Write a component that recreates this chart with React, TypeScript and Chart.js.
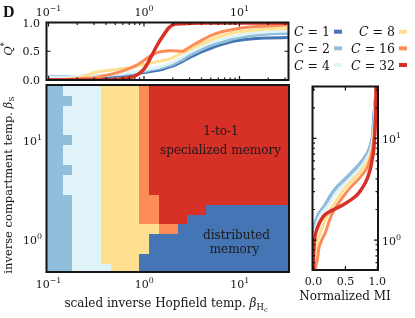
import React, { useEffect, useRef } from "react";
import { Chart, registerables } from "chart.js";

Chart.register(...registerables);

const W = 415;
const H = 318;
const SERIF = '"DejaVu Serif", "Liberation Serif", serif';
const INK = "#151515";

// ---- series / categories ----
const C_VALUES = [1, 2, 4, 8, 16, 32];
const C_COLORS = ["#4575b4", "#91bfdb", "#e0f3f8", "#fee090", "#fc8d59", "#d73027"];

// top panel: Q* vs scaled inverse Hopfield temperature
const BETA_H = [0.1, 0.15, 0.2, 0.25, 0.3, 0.4, 0.5, 0.6, 0.7, 0.8, 0.9, 1.0, 1.1, 1.2, 1.3, 1.4, 1.6, 1.8, 2.0, 2.5, 3.0, 4.0, 5.0, 6.3, 8.0, 10, 15, 20, 32];
const Q_C1 = [0.05, 0.05, 0.05, 0.05, 0.06, 0.06, 0.07, 0.08, 0.09, 0.1, 0.12, 0.13, 0.14, 0.15, 0.16, 0.17, 0.19, 0.22, 0.24, 0.32, 0.39, 0.49, 0.55, 0.61, 0.66, 0.69, 0.72, 0.73, 0.74];
const Q_C2 = [0.06, 0.06, 0.06, 0.07, 0.07, 0.08, 0.09, 0.1, 0.11, 0.12, 0.14, 0.15, 0.16, 0.18, 0.19, 0.2, 0.22, 0.25, 0.27, 0.35, 0.43, 0.53, 0.6, 0.65, 0.7, 0.74, 0.78, 0.8, 0.81];
const Q_C4 = [0.05, 0.05, 0.06, 0.06, 0.07, 0.08, 0.1, 0.11, 0.13, 0.14, 0.16, 0.17, 0.19, 0.2, 0.21, 0.22, 0.25, 0.28, 0.31, 0.4, 0.48, 0.58, 0.65, 0.7, 0.75, 0.78, 0.82, 0.84, 0.85];
const Q_C8 = [0.0, 0.01, 0.03, 0.08, 0.13, 0.16, 0.18, 0.2, 0.21, 0.23, 0.25, 0.27, 0.28, 0.3, 0.31, 0.32, 0.34, 0.36, 0.39, 0.47, 0.53, 0.63, 0.7, 0.76, 0.81, 0.84, 0.87, 0.89, 0.9];
const Q_C16 = [0.01, 0.01, 0.02, 0.03, 0.04, 0.08, 0.12, 0.16, 0.2, 0.24, 0.29, 0.34, 0.39, 0.43, 0.46, 0.48, 0.5, 0.51, 0.51, 0.5, 0.57, 0.69, 0.77, 0.83, 0.87, 0.9, 0.93, 0.94, 0.96];
const Q_C32 = [0, 0, 0, 0, 0, 0.005, 0.01, 0.02, 0.04, 0.07, 0.12, 0.19, 0.3, 0.42, 0.53, 0.63, 0.78, 0.9, 0.96, 0.98, 0.985, 0.99, 0.99, 0.99, 0.99, 0.99, 0.99, 0.99, 0.99];
const Q_SERIES = [Q_C1, Q_C2, Q_C4, Q_C8, Q_C16, Q_C32];

// right panel: normalized MI vs inverse compartment temperature
const BETA_S = [0.5, 0.6, 0.7, 0.8, 0.9, 1.0, 1.2, 1.5, 1.8, 2.2, 2.7, 3.3, 4, 5, 6, 7.5, 10, 13, 18, 25, 33];
const MI_C1 = [0, 0, 0, 0, 0, 0, 0, 0.03, 0.08, 0.18, 0.26, 0.36, 0.5, 0.65, 0.76, 0.86, 0.92, 0.935, 0.95, 0.97, 0.98];
const MI_C2 = [0, 0, 0, 0, 0, 0, 0, 0.03, 0.08, 0.18, 0.26, 0.36, 0.5, 0.65, 0.76, 0.86, 0.92, 0.935, 0.95, 0.97, 0.98];
const MI_C4 = [0, 0, 0.005, 0.005, 0.01, 0.01, 0.025, 0.06, 0.12, 0.23, 0.32, 0.43, 0.57, 0.72, 0.81, 0.89, 0.93, 0.95, 0.96, 0.975, 0.98];
const MI_C8 = [0.01, 0.02, 0.03, 0.04, 0.055, 0.07, 0.11, 0.17, 0.22, 0.31, 0.4, 0.5, 0.63, 0.77, 0.85, 0.91, 0.94, 0.955, 0.97, 0.975, 0.98];
const MI_C16 = [0.02, 0.05, 0.07, 0.08, 0.1, 0.13, 0.19, 0.24, 0.29, 0.37, 0.47, 0.58, 0.71, 0.83, 0.88, 0.92, 0.95, 0.96, 0.97, 0.975, 0.98];
const MI_C32 = [0, 0, 0, 0.005, 0.01, 0.015, 0.04, 0.1, 0.19, 0.45, 0.66, 0.77, 0.84, 0.89, 0.915, 0.94, 0.955, 0.965, 0.975, 0.98, 0.98];
const MI_SERIES = [MI_C1, MI_C2, MI_C4, MI_C8, MI_C16, MI_C32];

// main panel: grid of (beta_H, beta_S) and index (into C_VALUES) of best C at each cell
const BETA_H_GRID = [0.1, 0.126, 0.158, 0.2, 0.251, 0.316, 0.398, 0.501, 0.631, 0.794, 1, 1.26, 1.58, 2, 2.51, 3.16, 3.98, 5.01, 6.31, 7.94, 10, 12.6, 15.8, 20, 25.1, 31.6];
const BETA_S_GRID = [31.6, 25.1, 20, 15.8, 12.6, 10, 7.94, 6.31, 5.01, 3.98, 3.16, 2.51, 2, 1.58, 1.26, 1, 0.794, 0.631, 0.501];
const BEST_C = [
  "11222233334555555555555555",
  "11122233334555555555555555",
  "11222233334555555555555555",
  "11222233334555555555555555",
  "11222233334555555555555555",
  "11122233334555555555555555",
  "11222233334555555555555555",
  "11222233334555555555555555",
  "11122233334555555555555555",
  "11222233334555555555555555",
  "11222233334555555555555555",
  "11122233334455555555555555",
  "11122233334455555000000000",
  "11122233334455500000000000",
  "11122233333344000000000000",
  "11122233333000000000000000",
  "11122233333000000000000000",
  "11122233330000000000000000",
  "11122223330000000000000000",
];

// axes
const X_MIN = 0.0953;
const X_MAX = 32.6;
const HEAT_Y_MIN = 0.467;
const HEAT_Y_MAX = 36.1;
const MI_Y_MIN = 0.508;
const MI_Y_MAX = 32.4;
const X_TICKS = [0.1, 1, 10];
const X_TICK_EXP = ["\u22121", "0", "1"];
const Q_TICKS = [0, 0.5, 1];
const Q_TICK_LABELS = ["0.0", "0.5", "1.0"];
const S_TICKS = [1, 10];
const S_TICK_EXP = ["0", "1"];
const MI_TICKS = [0, 0.5, 1];
const MI_TICK_LABELS = ["0.0", "0.5", "1.0"];

// ---- drawing helpers ----
type Part = { t: string; font: string; dy?: number };
const font = (size: number, style = "") => `${style} ${size}px ${SERIF}`.trim();

function drawRich(ctx: CanvasRenderingContext2D, parts: Part[], x: number, y: number, align: "left" | "center" | "right", rot = 0) {
  ctx.save();
  ctx.translate(x, y);
  if (rot) ctx.rotate(rot);
  ctx.textAlign = "left";
  ctx.textBaseline = "alphabetic";
  let total = 0;
  const widths = parts.map((p) => {
    ctx.font = p.font;
    const w = ctx.measureText(p.t).width;
    total += w;
    return w;
  });
  let cx = align === "left" ? 0 : align === "center" ? -total / 2 : -total;
  parts.forEach((p, i) => {
    ctx.font = p.font;
    ctx.fillText(p.t, cx, p.dy || 0);
    cx += widths[i];
  });
  ctx.restore();
}

const pow10 = (exp: string, size = 11): Part[] => [
  { t: "10", font: font(size) },
  { t: exp, font: font(size * 0.72), dy: -size * 0.45 },
];

function logMinors(min: number, max: number) {
  const out: number[] = [];
  for (let e = Math.floor(Math.log10(min)); e <= Math.ceil(Math.log10(max)); e++) {
    for (let m = 2; m <= 9; m++) {
      const v = m * Math.pow(10, e);
      if (v > min && v < max) out.push(v);
    }
  }
  return out;
}

function frame(ctx: CanvasRenderingContext2D, a: any) {
  ctx.save();
  ctx.strokeStyle = INK;
  ctx.lineWidth = 2;
  ctx.strokeRect(a.left, a.top, a.right - a.left, a.bottom - a.top);
  ctx.restore();
}

function ticksX(ctx: CanvasRenderingContext2D, scale: any, a: any, vals: number[], len: number, top: boolean, bottom: boolean) {
  ctx.beginPath();
  vals.forEach((v) => {
    const p = scale.getPixelForValue(v);
    if (top) { ctx.moveTo(p, a.top); ctx.lineTo(p, a.top + len); }
    if (bottom) { ctx.moveTo(p, a.bottom); ctx.lineTo(p, a.bottom - len); }
  });
  ctx.stroke();
}

function ticksY(ctx: CanvasRenderingContext2D, scale: any, a: any, vals: number[], len: number, left: boolean, right: boolean) {
  ctx.beginPath();
  vals.forEach((v) => {
    const p = scale.getPixelForValue(v);
    if (left) { ctx.moveTo(a.left, p); ctx.lineTo(a.left + len, p); }
    if (right) { ctx.moveTo(a.right, p); ctx.lineTo(a.right - len, p); }
  });
  ctx.stroke();
}

function cellEdges(g: number[]) {
  const n = g.length;
  const e: number[] = [g[0] / Math.sqrt(g[1] / g[0])];
  for (let i = 1; i < n; i++) e.push(Math.sqrt(g[i - 1] * g[i]));
  e.push(g[n - 1] * Math.sqrt(g[n - 1] / g[n - 2]));
  return e;
}

// ---- plugins ----
const topDecor = {
  id: "topDecor",
  afterDatasetsDraw(chart: any) {
    const { ctx, chartArea: a } = chart;
    const xs = chart.scales.x;
    const ys = chart.scales.y;
    ctx.save();
    ctx.strokeStyle = INK;
    ctx.lineWidth = 1.2;
    ticksX(ctx, xs, a, X_TICKS, 4, true, true);
    ticksX(ctx, xs, a, logMinors(X_MIN, X_MAX), 2.5, true, true);
    ticksY(ctx, ys, a, Q_TICKS, 4, true, true);
    frame(ctx, a);
    ctx.fillStyle = INK;
    X_TICKS.forEach((v, i) => drawRich(ctx, pow10(X_TICK_EXP[i]), xs.getPixelForValue(v), 15.5, "center"));
    Q_TICKS.forEach((v, i) => drawRich(ctx, [{ t: Q_TICK_LABELS[i], font: font(11) }], a.left - 6.5, ys.getPixelForValue(v) + 4, "right"));
    drawRich(ctx, [{ t: "Q", font: font(11.5, "italic") }, { t: "*", font: font(8.5), dy: -5 }], 12, 49, "center", -Math.PI / 2);
    drawRich(ctx, [{ t: "D", font: 'bold 16px "Liberation Serif", serif' }], 3, 17, "left");
    C_VALUES.forEach((c, i) => {
      const col = Math.floor(i / 3);
      const row = i % 3;
      const yc = 31.7 + row * 16.65;
      const xr = col === 0 ? 330 : 395;
      ctx.fillStyle = INK;
      drawRich(ctx, [{ t: "C", font: font(12.5, "italic") }, { t: ` = ${c}`, font: font(12.5) }], xr, yc + 4.5, "right");
      ctx.fillStyle = C_COLORS[i];
      ctx.fillRect(xr + 4, yc - 2, 8, 4);
    });
    ctx.restore();
  },
};

const heatDecor = {
  id: "heatDecor",
  beforeDatasetsDraw(chart: any) {
    const { ctx, chartArea: a } = chart;
    const xs = chart.scales.x;
    const ys = chart.scales.y;
    const xe = cellEdges(BETA_H_GRID);
    const ye = cellEdges(BETA_S_GRID);
    ctx.save();
    ctx.beginPath();
    ctx.rect(a.left, a.top, a.right - a.left, a.bottom - a.top);
    ctx.clip();
    BEST_C.forEach((row, r) => {
      for (let c = 0; c < row.length; c++) {
        ctx.fillStyle = C_COLORS[Number(row[c])];
        const x0 = Math.round(xs.getPixelForValue(xe[c]));
        const x1 = Math.round(xs.getPixelForValue(xe[c + 1]));
        const y0 = Math.round(ys.getPixelForValue(ye[r]));
        const y1 = Math.round(ys.getPixelForValue(ye[r + 1]));
        ctx.fillRect(Math.min(x0, x1), Math.min(y0, y1), Math.abs(x1 - x0), Math.abs(y1 - y0));
      }
    });
    ctx.restore();
  },
  afterDatasetsDraw(chart: any) {
    const { ctx, chartArea: a } = chart;
    const xs = chart.scales.x;
    const ys = chart.scales.y;
    ctx.save();
    frame(ctx, a);
    ctx.fillStyle = INK;
    X_TICKS.forEach((v, i) => drawRich(ctx, pow10(X_TICK_EXP[i]), xs.getPixelForValue(v), 287.5, "center"));
    S_TICKS.forEach((v, i) => drawRich(ctx, pow10(S_TICK_EXP[i]), 42, ys.getPixelForValue(v) + 5, "right"));
    drawRich(ctx, [
      { t: "scaled inverse Hopfield temp. ", font: font(12) },
      { t: "\u03b2", font: font(12, "italic") },
      { t: "H", font: font(8.5), dy: 2.5 },
      { t: "c", font: font(6.5), dy: 4.5 },
    ], 166, 307, "center");
    drawRich(ctx, [
      { t: "inverse compartment temp. ", font: font(11.5) },
      { t: "\u03b2", font: font(11.5, "italic") },
      { t: "S", font: font(8), dy: 2.5 },
    ], 11.5, 185, "center", -Math.PI / 2);
    ctx.fillStyle = "#1a1a1a";
    drawRich(ctx, [{ t: "1-to-1", font: font(12) }], 221, 135, "center");
    drawRich(ctx, [{ t: "specialized memory", font: font(12) }], 220.5, 153.5, "center");
    drawRich(ctx, [{ t: "distributed", font: font(12) }], 236.5, 239, "center");
    drawRich(ctx, [{ t: "memory", font: font(12) }], 234.5, 252.5, "center");
    ctx.restore();
  },
};

const miDecor = {
  id: "miDecor",
  afterDatasetsDraw(chart: any) {
    const { ctx, chartArea: a } = chart;
    const xs = chart.scales.x;
    const ys = chart.scales.y;
    ctx.save();
    ctx.strokeStyle = INK;
    ctx.lineWidth = 1.2;
    ticksY(ctx, ys, a, S_TICKS, 4, true, true);
    ticksY(ctx, ys, a, logMinors(MI_Y_MIN, MI_Y_MAX), 2.5, true, true);
    ticksX(ctx, xs, a, MI_TICKS, 4, true, true);
    frame(ctx, a);
    ctx.fillStyle = INK;
    MI_TICKS.forEach((v, i) => drawRich(ctx, [{ t: MI_TICK_LABELS[i], font: font(11) }], xs.getPixelForValue(v), 285, "center"));
    S_TICKS.forEach((v, i) => drawRich(ctx, pow10(S_TICK_EXP[i]), 382, ys.getPixelForValue(v) + 5, "left"));
    drawRich(ctx, [{ t: "Normalized MI", font: font(12) }], 345, 300, "center");
    ctx.restore();
  },
};

const baseOptions = (padding: any) => ({
  responsive: false,
  animation: false as const,
  devicePixelRatio: 1,
  events: [] as any[],
  layout: { padding },
  plugins: { legend: { display: false }, tooltip: { enabled: false }, title: { display: false } },
});

export default function App() {
  const topRef = useRef<HTMLCanvasElement>(null);
  const heatRef = useRef<HTMLCanvasElement>(null);
  const miRef = useRef<HTMLCanvasElement>(null);

  useEffect(() => {
    const charts: Chart[] = [];

    charts.push(
      new Chart(heatRef.current as HTMLCanvasElement, {
        type: "scatter",
        data: {
          datasets: [
            {
              label: "best C",
              data: BEST_C.flatMap((row, r) => row.split("").map((k, c) => ({ x: BETA_H_GRID[c], y: BETA_S_GRID[r], c: C_VALUES[Number(k)] }))),
              pointRadius: 0,
              showLine: false,
            } as any,
          ],
        },
        options: {
          ...baseOptions({ left: 46.5, top: 85, right: W - 289, bottom: H - 272 }),
          scales: {
            x: { type: "logarithmic", min: X_MIN, max: X_MAX, display: false },
            y: { type: "logarithmic", min: HEAT_Y_MIN, max: HEAT_Y_MAX, display: false },
          },
        } as any,
        plugins: [heatDecor],
      })
    );

    charts.push(
      new Chart(topRef.current as HTMLCanvasElement, {
        type: "line",
        data: {
          datasets: C_VALUES.map((c, i) => ({
            label: `C = ${c}`,
            data: BETA_H.map((x, j) => ({ x, y: Q_SERIES[i][j] })),
            borderColor: C_COLORS[i],
            backgroundColor: C_COLORS[i],
            borderWidth: i === 5 ? 3.5 : 3,
            pointRadius: 0,
            fill: false,
            order: C_VALUES.length - i,
            cubicInterpolationMode: "monotone" as const,
          })),
        },
        options: {
          ...baseOptions({ left: 46.5, top: 22.5, right: W - 288.5, bottom: H - 80 }),
          scales: {
            x: { type: "logarithmic", min: X_MIN, max: X_MAX, display: false },
            y: { type: "linear", min: 0, max: 1, display: false },
          },
        } as any,
        plugins: [topDecor],
      })
    );

    charts.push(
      new Chart(miRef.current as HTMLCanvasElement, {
        type: "line",
        data: {
          datasets: C_VALUES.map((c, i) => ({
            label: `C = ${c}`,
            data: BETA_S.map((y, j) => ({ x: MI_SERIES[i][j], y })),
            borderColor: C_COLORS[i],
            backgroundColor: C_COLORS[i],
            borderWidth: i === 5 ? 3.5 : 3,
            pointRadius: 0,
            fill: false,
            order: C_VALUES.length - i,
            tension: 0.35,
          })),
        },
        options: {
          ...baseOptions({ left: 312.5, top: 86.5, right: W - 378, bottom: H - 270 }),
          scales: {
            x: { type: "linear", min: -0.015, max: 1.01, display: false },
            y: { type: "logarithmic", min: MI_Y_MIN, max: MI_Y_MAX, display: false },
          },
        } as any,
        plugins: [miDecor],
      })
    );

    return () => charts.forEach((ch) => ch.destroy());
  }, []);

  const cs: React.CSSProperties = { position: "absolute", left: 0, top: 0, width: W, height: H };
  return (
    <div style={{ position: "absolute", left: 0, top: 0, width: W, height: H, background: "#ffffff" }}>
      <canvas ref={heatRef} width={W} height={H} style={cs} />
      <canvas ref={topRef} width={W} height={H} style={cs} />
      <canvas ref={miRef} width={W} height={H} style={cs} />
    </div>
  );
}
